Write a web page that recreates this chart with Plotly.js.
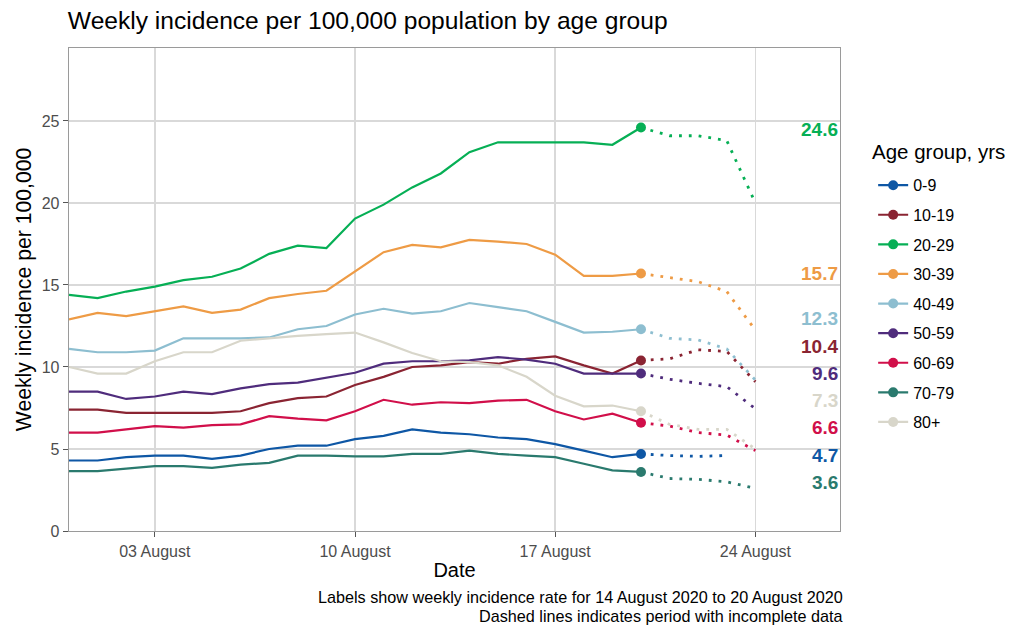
<!DOCTYPE html>
<html>
<head>
<meta charset="utf-8">
<script src="https://cdn.plot.ly/plotly-3.0.1.min.js"></script>
<style>html,body{margin:0;padding:0;background:#fff;}#chart{width:1013px;height:625px;}</style>
</head>
<body>
<div id="chart"></div>
<script>
// ---- data ----
const dates = ['2020-07-31','2020-08-01','2020-08-02','2020-08-03','2020-08-04','2020-08-05','2020-08-06',
  '2020-08-07','2020-08-08','2020-08-09','2020-08-10','2020-08-11','2020-08-12','2020-08-13',
  '2020-08-14','2020-08-15','2020-08-16','2020-08-17','2020-08-18','2020-08-19','2020-08-20'];
const tailDates = ['2020-08-20','2020-08-21','2020-08-22','2020-08-23','2020-08-24'];
const ageGroups = ['0-9','10-19','20-29','30-39','40-49','50-59','60-69','70-79','80+'];

const age0_9   = [4.3,4.3,4.5,4.6,4.6,4.4,4.6,5.0,5.2,5.2,5.6,5.8,6.2,6.0,5.9,5.7,5.6,5.3,4.9,4.5,4.7];
const age10_19 = [7.4,7.4,7.2,7.2,7.2,7.2,7.3,7.8,8.1,8.2,8.9,9.4,10.0,10.1,10.3,10.2,10.5,10.65,10.1,9.6,10.4];
const age20_29 = [14.4,14.2,14.6,14.9,15.3,15.5,16.0,16.9,17.4,17.25,19.05,19.9,20.95,21.8,23.1,23.7,23.7,23.7,23.7,23.55,24.6];
const age30_39 = [12.9,13.3,13.1,13.4,13.7,13.3,13.5,14.2,14.45,14.65,15.85,17.0,17.45,17.3,17.75,17.65,17.5,16.85,15.55,15.55,15.7];
const age40_49 = [11.1,10.9,10.9,11.0,11.75,11.75,11.75,11.8,12.3,12.5,13.2,13.55,13.25,13.4,13.9,13.65,13.4,12.75,12.1,12.15,12.3];
const age50_59 = [8.5,8.5,8.05,8.2,8.5,8.35,8.7,8.95,9.05,9.35,9.65,10.2,10.35,10.35,10.4,10.6,10.45,10.2,9.6,9.6,9.6];
const age60_69 = [6.0,6.0,6.2,6.4,6.3,6.45,6.5,7.0,6.85,6.75,7.3,8.0,7.7,7.85,7.8,7.95,8.0,7.3,6.8,7.15,6.6];
const age70_79 = [3.65,3.65,3.8,3.95,3.95,3.85,4.05,4.15,4.6,4.6,4.55,4.55,4.7,4.7,4.9,4.7,4.6,4.5,4.1,3.7,3.6];
const age80p   = [10.0,9.6,9.6,10.35,10.9,10.9,11.6,11.75,11.9,12.0,12.1,11.5,10.85,10.35,10.3,10.1,9.4,8.25,7.6,7.65,7.3];

// incomplete-data period (dotted)
const tail0_9   = [4.7,4.6,4.55,4.6];
const tail10_19 = [10.4,10.5,11.05,10.95,9.1];
const tail20_29 = [24.6,24.1,24.1,23.8,20.0];
const tail30_39 = [15.7,15.45,15.2,14.6,12.25];
const tail40_49 = [12.3,11.75,11.65,11.1,9.2];
const tail50_59 = [9.6,9.25,9.0,8.8,7.45];
const tail60_69 = [6.6,6.4,6.0,5.85,4.9];
const tail70_79 = [3.6,3.2,3.15,3.0,2.6];
const tail80p   = [7.3,6.5,6.2,6.2,5.0];

const xTickVals = ['2020-08-03','2020-08-10','2020-08-17','2020-08-24'];
const xTickText = ['03 August','10 August','17 August','24 August'];
const yTickVals = [0,5,10,15,20,25];

// ---- styles ----
const series = [age0_9,age10_19,age20_29,age30_39,age40_49,age50_59,age60_69,age70_79,age80p];
const tails  = [tail0_9,tail10_19,tail20_29,tail30_39,tail40_49,tail50_59,tail60_69,tail70_79,tail80p];
const colors = ['#0E57A5','#8A2432','#06AF55','#EE9B45','#8DBED0','#4F2C7C','#D10F4A','#2A7A6E','#D8D6CA'];
// pixel nudges of the end labels (repelled)
const labelShift = [-1.5,14,-1.5,0,10.5,0.5,-5,-11,11];

const FONT = 'Liberation Sans, Arial, sans-serif';
const traces = [];
series.forEach((s,i)=>{
  traces.push({x:dates,y:s,type:'scatter',mode:'lines',line:{color:colors[i],width:2.2},
    showlegend:false,legendgroup:ageGroups[i],hoverinfo:'skip'});
});
tails.forEach((t,i)=>{
  traces.push({x:tailDates.slice(0,t.length),y:t,type:'scatter',mode:'lines',
    line:{color:colors[i],width:2.8,dash:'2.8px,7px'},
    showlegend:false,legendgroup:ageGroups[i],hoverinfo:'skip'});
});
series.forEach((s,i)=>{
  traces.push({x:[dates[dates.length-1]],y:[s[s.length-1]],type:'scatter',mode:'lines+markers',
    name:ageGroups[i],legendgroup:ageGroups[i],
    line:{color:colors[i],width:2.2},marker:{color:colors[i],size:10}});
});

const annotations = series.map((s,i)=>({
  xref:'paper',x:0.992,xanchor:'right',xshift:6,yref:'y',y:s[s.length-1],yanchor:'middle',yshift:labelShift[i],
  text:'<b>'+s[s.length-1].toFixed(1)+'</b>',showarrow:false,
  font:{family:FONT,size:19,color:colors[i]}
}));
annotations.push({xref:'paper',yref:'paper',x:1,xshift:5,y:-0.1366,xanchor:'right',yanchor:'middle',showarrow:false,
  text:'Labels show weekly incidence rate for 14 August 2020 to 20 August 2020',font:{family:FONT,size:16.2,color:'#000'}});
annotations.push({xref:'paper',yref:'paper',x:1,xshift:5,y:-0.176,xanchor:'right',yanchor:'middle',showarrow:false,
  text:'Dashed lines indicates period with incomplete data',font:{family:FONT,size:16.2,color:'#000'}});
// legend title
annotations.push({xref:'paper',yref:'paper',x:1.0428,xshift:-3,y:0.7847,xanchor:'left',yanchor:'middle',showarrow:false,
  text:'Age group, yrs',font:{family:FONT,size:20.5,color:'#000'}});

const layout = {
  width:1013,height:625,
  margin:{l:69,r:173,t:48,b:94},
  paper_bgcolor:'#fff',plot_bgcolor:'#fff',
  font:{family:FONT,color:'#000'},
  title:{text:'Weekly incidence per 100,000 population by age group',x:0.067,xanchor:'left',
    y:0.967,yanchor:'middle',font:{family:FONT,size:24.6,color:'#000'}},
  xaxis:{type:'date',range:['2020-07-31','2020-08-26T23:00'],tickmode:'array',tickvals:xTickVals,ticktext:xTickText,
    showgrid:true,gridcolor:'#D9D9D9',gridwidth:1.5,ticks:'outside',ticklen:5,tickcolor:'#555',tickwidth:1,
    showline:true,mirror:true,linecolor:'#9A9A9A',linewidth:1.3,zeroline:false,
    tickfont:{family:FONT,size:16,color:'#4D4D4D'},
    title:{text:'Date',font:{family:FONT,size:20,color:'#000'},standoff:4}},
  yaxis:{range:[0,29.45],tickmode:'array',tickvals:yTickVals,
    showgrid:true,gridcolor:'#D9D9D9',gridwidth:1.5,ticks:'outside',ticklen:5,tickcolor:'#555',tickwidth:1,
    showline:true,mirror:true,linecolor:'#9A9A9A',linewidth:1.3,zeroline:false,
    tickfont:{family:FONT,size:16,color:'#4D4D4D'},
    title:{text:'Weekly incidence per 100,000',font:{family:FONT,size:21.2,color:'#000'},standoff:4}},
  legend:{x:1.043,xanchor:'left',y:0.751,yanchor:'top',traceorder:'grouped',tracegroupgap:5.8,
    font:{family:FONT,size:16,color:'#000'},bgcolor:'rgba(0,0,0,0)',borderwidth:0},
  annotations:annotations,
  showlegend:true
};
Plotly.newPlot('chart',traces,layout,{displayModeBar:false,staticPlot:true});
</script>
</body>
</html>
